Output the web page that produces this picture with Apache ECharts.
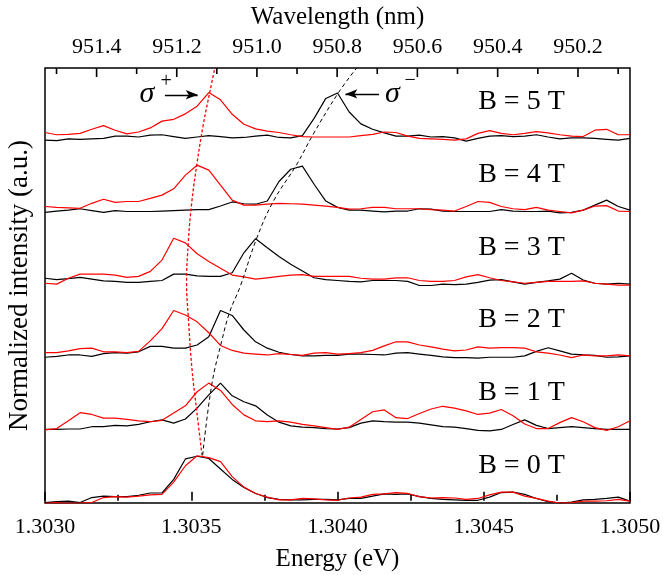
<!DOCTYPE html>
<html>
<head>
<meta charset="utf-8">
<script src="https://cdn.jsdelivr.net/npm/echarts@6/dist/echarts.min.js"></script>
<style>
  html, body { margin: 0; padding: 0; background: #fff; }
  #chart { width: 663px; height: 575px; }
</style>
</head>
<body>
<div id="chart"></div>
<script>
"use strict";
// energy grid (eV), shared by every spectrum
var energy = [1.30300, 1.30304, 1.30308, 1.30312, 1.30316, 1.30320, 1.30324, 1.30328, 1.30332, 1.30336,
              1.30340, 1.30344, 1.30348, 1.30352, 1.30356, 1.30360, 1.30364, 1.30368, 1.30372, 1.30376,
              1.30380, 1.30384, 1.30388, 1.30392, 1.30396, 1.30400, 1.30404, 1.30408, 1.30412, 1.30416,
              1.30420, 1.30424, 1.30428, 1.30432, 1.30436, 1.30440, 1.30444, 1.30448, 1.30452, 1.30456,
              1.30460, 1.30464, 1.30468, 1.30472, 1.30476, 1.30480, 1.30484, 1.30488, 1.30492, 1.30496,
              1.30500];

var fields = [0, 1, 2, 3, 4, 5];          // T
var offsets = [0, 1.6, 3.2, 4.8, 6.4, 8.0]; // vertical shift of each pair

// sigma- (black) normalized spectra
var black0 = [-0.04,-0.02,-0.01,-0.04,0.07,0.10,0.09,0.09,0.12,0.17,0.17,0.47,0.92,0.98,0.93,0.70,0.47,0.29,0.16,0.07,0.03,0.02,0.02,0.03,0.03,0.02,0.05,0.05,0.10,0.15,0.14,0.15,0.09,0.05,0.03,0.02,0.01,0.01,0.08,0.18,0.19,0.14,0.05,-0.02,-0.05,-0.03,0.02,0.03,0.05,0.08,-0.01];
var black1 = [-0.03,-0.03,-0.02,-0.02,0.03,0.03,0.06,0.05,0.08,0.14,0.18,0.11,0.20,0.44,0.73,0.99,0.71,0.58,0.49,0.29,0.13,0.05,0.02,0.01,-0.01,-0.02,0.01,0.11,0.16,0.14,0.13,0.13,0.11,0.07,0.03,0.02,-0.01,-0.05,-0.06,-0.03,0.08,0.18,0.06,-0.01,0.01,0.03,0.01,-0.01,-0.03,-0.03,-0.03];
var black2 = [-0.04,-0.02,0.01,0.01,-0.02,0.04,0.06,0.05,0.08,0.20,0.20,0.16,0.16,0.23,0.41,0.99,0.88,0.56,0.30,0.16,0.07,0.02,-0.01,-0.01,0.00,0.00,0.03,0.03,0.02,0.01,0.05,0.06,0.03,0.00,-0.03,-0.05,-0.05,-0.06,-0.04,-0.04,-0.04,-0.01,0.09,0.17,0.10,0.03,0.01,0.00,-0.04,-0.03,-0.01];
var black3 = [0.10,0.07,0.09,0.12,0.08,0.04,0.03,0.01,0.01,0.03,0.05,0.19,0.19,0.15,0.14,0.14,0.22,0.66,0.97,0.77,0.58,0.41,0.26,0.11,0.07,0.05,0.03,0.02,0.05,0.05,0.05,0.03,-0.06,-0.06,-0.03,-0.04,-0.03,0.01,0.06,0.07,0.02,-0.03,0.01,0.04,0.08,0.21,0.06,-0.01,-0.03,-0.01,-0.03];
var black4 = [-0.05,-0.02,0.00,0.03,-0.01,-0.05,-0.01,-0.03,-0.03,-0.03,-0.02,-0.01,0.00,0.01,0.01,0.09,0.18,0.14,0.13,0.20,0.63,0.90,0.97,0.57,0.20,0.06,0.00,0.00,-0.02,-0.04,-0.02,-0.02,0.03,0.02,-0.02,-0.03,-0.03,-0.03,-0.03,0.01,-0.02,-0.03,-0.03,-0.02,-0.06,-0.05,0.00,0.11,0.22,0.08,0.00];
var black5 = [-0.06,-0.07,-0.03,-0.04,-0.03,-0.02,0.03,0.03,0.01,0.05,0.06,0.02,-0.02,0.01,0.04,0.02,-0.01,0.00,0.03,0.05,0.00,-0.01,0.04,0.42,0.86,0.98,0.56,0.30,0.18,0.10,0.03,0.03,0.05,0.01,0.02,-0.01,-0.08,-0.02,0.03,0.04,0.02,0.03,0.06,0.01,-0.03,-0.01,-0.01,-0.02,-0.04,-0.06,-0.02];

// sigma+ (red) normalized spectra
var red0 = [-0.06,-0.04,-0.06,-0.05,-0.04,0.07,0.09,0.08,0.10,0.13,0.14,0.41,0.77,0.99,0.95,0.86,0.53,0.30,0.16,0.08,0.02,0.02,0.05,0.04,0.02,0.01,0.06,0.08,0.14,0.15,0.18,0.16,0.09,0.06,0.07,0.06,0.03,0.05,0.13,0.19,0.19,0.10,0.05,-0.01,-0.05,-0.04,-0.01,-0.01,0.00,0.03,-0.01];
var red1 = [-0.04,-0.01,0.16,0.34,0.30,0.22,0.22,0.19,0.16,0.14,0.17,0.33,0.49,0.80,0.99,0.83,0.52,0.29,0.16,0.14,0.16,0.13,0.08,0.05,0.01,-0.03,0.02,0.19,0.36,0.40,0.23,0.21,0.32,0.42,0.48,0.44,0.38,0.30,0.33,0.41,0.27,0.09,-0.01,-0.01,0.12,0.23,0.14,0.01,-0.05,0.03,0.16];
var red2 = [0.06,0.06,0.10,0.15,0.16,0.08,0.08,0.06,0.09,0.32,0.59,0.99,0.89,0.74,0.50,0.22,0.11,0.05,0.03,0.01,0.04,0.02,0.00,0.05,0.06,0.03,0.04,0.06,0.11,0.21,0.30,0.30,0.23,0.19,0.14,0.10,0.12,0.19,0.16,0.17,0.17,0.16,0.08,0.05,0.01,-0.05,0.01,-0.01,-0.01,0.01,-0.01];
var red3 = [-0.01,-0.03,0.10,0.19,0.19,0.19,0.17,0.12,0.14,0.25,0.50,0.98,0.88,0.64,0.47,0.32,0.17,0.13,0.08,0.11,0.14,0.17,0.18,0.14,0.14,0.14,0.14,0.10,0.08,0.08,0.11,0.11,0.05,0.03,0.03,0.05,0.13,0.18,0.11,0.05,0.02,-0.01,0.01,0.03,0.03,0.03,0.04,-0.01,-0.03,-0.05,-0.05];
var red4 = [0.08,0.06,0.05,0.04,0.15,0.24,0.17,0.19,0.19,0.26,0.33,0.47,0.77,0.99,0.88,0.55,0.22,0.11,0.11,0.13,0.15,0.14,0.13,0.11,0.09,0.06,0.02,0.03,0.06,0.06,0.03,0.03,0.03,0.01,0.00,-0.02,0.08,0.19,0.17,0.08,0.03,0.01,0.06,0.00,-0.03,-0.06,0.00,0.09,0.10,-0.02,-0.03];
var red5 = [0.11,0.06,0.07,0.09,0.18,0.26,0.16,0.08,0.12,0.21,0.36,0.40,0.52,0.69,0.99,0.83,0.51,0.29,0.19,0.14,0.11,0.06,0.02,0.01,0.01,0.01,0.01,0.04,0.07,0.12,0.11,0.03,-0.02,-0.03,-0.04,-0.06,-0.03,0.09,0.15,0.09,0.06,0.09,0.13,0.10,0.06,0.03,0.02,0.16,0.18,0.06,0.06];

var blackSpectra = [black0, black1, black2, black3, black4, black5];
var redSpectra = [red0, red1, red2, red3, red4, red5];

// peak-position guides (field in T, energy in eV)
var sigmaPlusField = [0, 0.6, 1.21, 1.9, 2.35, 2.94, 3.49, 4.0, 4.55, 5.01, 5.34];
var sigmaPlusE = [1.303537, 1.303519, 1.303502, 1.303490, 1.303484, 1.303490, 1.303502, 1.303519, 1.303541, 1.303564, 1.303581];
var sigmaMinusField = [0, 0.97, 1.57, 1.98, 2.32, 2.99, 3.5, 4.0, 4.42, 4.99, 5.34];
var sigmaMinusE = [1.303539, 1.303570, 1.303604, 1.303632, 1.303667, 1.303724, 1.303781, 1.303860, 1.303917, 1.304003, 1.304067];

// top axis ticks (nm)
var wlMajor = [950.2, 950.4, 950.6, 950.8, 951.0, 951.2, 951.4];
var wlMinor = [950.1, 950.3, 950.5, 950.7, 950.9, 951.1, 951.3, 951.5];

var HC = 1239.842; // eV nm
var eMin = 1.3030, eMax = 1.3050;
var yMin = -0.05, yMax = 9.53;
var FONT = 'Liberation Serif, DejaVu Serif, serif';

var chart = echarts.init(document.getElementById('chart'), null, {renderer: 'canvas'});

var series = [];
fields.forEach(function (b, k) {
  var off = offsets[k];
  series.push({
    type: 'line', xAxisIndex: 0, yAxisIndex: 0,
    data: energy.map(function (e, i) { return [e, blackSpectra[k][i] + off]; }),
    showSymbol: false, lineStyle: {color: '#000', width: 1.2}, silent: true, z: 2,
    markPoint: {
      symbol: 'circle', symbolSize: 0, silent: true,
      label: {show: true, position: 'inside', color: '#000', fontFamily: FONT, fontSize: 28,
              formatter: 'B = ' + b + ' T'},
      data: [{coord: [1.304629, off + 0.78]}]
    }
  });
  series.push({
    type: 'line', xAxisIndex: 0, yAxisIndex: 0,
    data: energy.map(function (e, i) { return [e, redSpectra[k][i] + off]; }),
    showSymbol: false, lineStyle: {color: '#ff0000', width: 1.2}, silent: true, z: 3
  });
});

var step = offsets[1] - offsets[0];
series.push({
  type: 'line', smooth: 0.4, showSymbol: false, silent: true, z: 4,
  data: sigmaPlusE.map(function (e, i) { return [e, sigmaPlusField[i] * step + 1.0]; }),
  lineStyle: {color: '#ff0000', width: 1.3, type: [3, 2]}
});
series.push({
  type: 'line', smooth: 0.4, showSymbol: false, silent: true, z: 4,
  data: sigmaMinusE.map(function (e, i) { return [e, sigmaMinusField[i] * step + 1.0]; }),
  lineStyle: {color: '#000', width: 1, type: [4, 3]}
});

// sigma annotations with arrows
series.push({
  type: 'line', data: [], silent: true, z: 5,
  markLine: {
    silent: true, symbol: ['none', 'arrow'], symbolSize: [7, 12],
    label: {show: false},
    lineStyle: {color: '#000', width: 1.3, type: 'solid'},
    data: [
      [{coord: [1.303410, 8.94]}, {coord: [1.303522, 8.94]}],
      [{coord: [1.304142, 8.96]}, {coord: [1.304027, 8.96]}]
    ]
  },
  markPoint: {
    symbol: 'circle', symbolSize: 0, silent: true,
    label: {show: true, position: 'inside', color: '#000', fontFamily: FONT},
    data: [
      {coord: [1.303348, 8.96], label: {formatter: 'σ', fontSize: 30, fontStyle: 'italic'}},
      {coord: [1.303414, 9.22], label: {formatter: '+', fontSize: 20}},
      {coord: [1.304188, 8.96], label: {formatter: 'σ', fontSize: 30, fontStyle: 'italic'}},
      {coord: [1.304248, 9.26], label: {formatter: '\u2212', fontSize: 20}}
    ]
  }
});

var option = {
  animation: false,
  backgroundColor: '#fff',
  grid: {left: 45, right: 33, top: 68, bottom: 72, show: true, borderColor: '#000', borderWidth: 1.5,
         backgroundColor: 'transparent', containLabel: false, outerBoundsMode: 'none'},
  textStyle: {fontFamily: FONT},
  xAxis: [{
    type: 'value', position: 'bottom', min: eMin, max: eMax, interval: 0.0005,
    name: 'Energy (eV)', nameLocation: 'middle', nameGap: 44,
    nameTextStyle: {color: '#000', fontFamily: FONT, fontSize: 25},
    axisLine: {show: false},
    axisTick: {show: true, inside: true, length: 9, lineStyle: {color: '#000', width: 1.6}},
    minorTick: {show: true, splitNumber: 2, length: 6, lineStyle: {color: '#000', width: 1.6}},
    axisLabel: {color: '#000', fontFamily: FONT, fontSize: 22, margin: 13,
                formatter: function (v) { return v.toFixed(4); }},
    splitLine: {show: false}
  }, {
    type: 'value', position: 'top', min: HC / eMax, max: HC / eMin, inverse: true,
    name: 'Wavelength (nm)', nameLocation: 'middle', nameGap: 38,
    nameTextStyle: {color: '#000', fontFamily: FONT, fontSize: 25},
    axisLine: {show: false},
    axisTick: {show: false},
    axisLabel: {color: '#000', fontFamily: FONT, fontSize: 22, margin: 10, customValues: wlMajor,
                formatter: function (v) { return v.toFixed(1); }},
    splitLine: {show: false}
  }],
  yAxis: {
    type: 'value', min: yMin, max: yMax,
    name: 'Normalized intensity (a.u.)', nameLocation: 'middle', nameGap: 12,
    nameTextStyle: {color: '#000', fontFamily: FONT, fontSize: 27},
    axisLine: {show: false}, axisTick: {show: false}, axisLabel: {show: false},
    splitLine: {show: false}
  },
  series: series
};

chart.setOption(option);

// wavelength ticks along the top edge, positioned through the energy scale
var topY = chart.convertToPixel({yAxisIndex: 0}, yMax);
var tickMarks = [];
function addTick(w, len) {
  var x = chart.convertToPixel({xAxisIndex: 0}, HC / w);
  tickMarks.push({
    type: 'line', silent: true, z: 100,
    shape: {x1: x, y1: topY, x2: x, y2: topY + len},
    style: {stroke: '#000', lineWidth: 1.6}
  });
}
wlMajor.forEach(function (w) { addTick(w, 9); });
wlMinor.forEach(function (w) { addTick(w, 6); });
chart.setOption({graphic: tickMarks});
</script>
</body>
</html>
